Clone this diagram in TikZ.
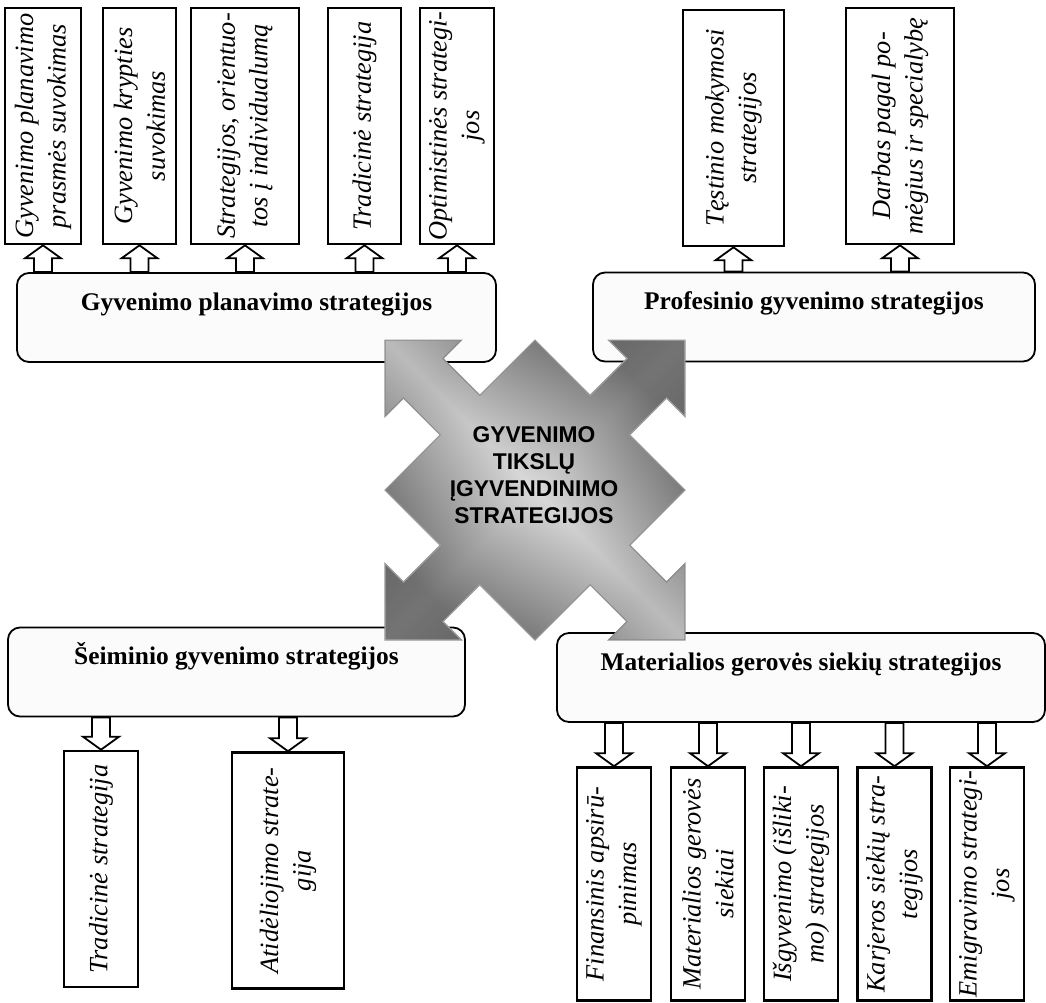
\documentclass[tikz,border=0pt]{standalone}
\usepackage{fontspec}
\setmainfont{Liberation Serif}
\newfontfamily\hubfont{Liberation Sans}
\usetikzlibrary{calc}
\usepackage{xcolor}
\definecolor{HubDark}{HTML}{474747}
\definecolor{HubLight}{HTML}{DCDCDC}
\definecolor{HubSide}{HTML}{707070}
\definecolor{HubEdge}{HTML}{959595}
\definecolor{GroupFill}{HTML}{FBFBFB}
\tikzset{
    % Group boxes - rounded corners
    group/.style={
        rectangle,
        rounded corners=6pt,
        draw=black,
        fill=GroupFill,
        line width=0.9pt,
        minimum height=44.5pt,
        inner ysep=7pt,
        text height=11.5pt,
        text depth=19pt,
        font=\fontsize{12.7}{14}\selectfont\bfseries
    },
    % Strategy boxes - text runs bottom to top
    item/.style={
        rectangle,
        rotate=90,
        draw=black,
        fill=white,
        line width=1.3pt,
        minimum width=118pt,
        inner sep=1pt,
        align=center,
        font=\fontsize{13.2}{16.3}\selectfont\itshape
    },
    % Centre text
    hub/.style={
        align=center,
        inner sep=0pt,
        font=\hubfont\fontsize{11.4}{13.6}\selectfont\bfseries
    },
    % Hollow block arrow, vertical only
    hollowarrow/.style={
        draw=black,
        fill=white,
        line width=0.9pt,
        to path={
            let \p1=(\tikztostart), \p2=(\tikztotarget),
                \n1={ifthenelse(\y2>\y1,1,-1)} in
            (\x1-4.5pt,\y1) -- (\x1-4.5pt,\y2-\n1*6.5pt) -- (\x1-9pt,\y2-\n1*6.5pt)
            -- (\x1,\y2) -- (\x1+9pt,\y2-\n1*6.5pt) -- (\x1+4.5pt,\y2-\n1*6.5pt)
            -- (\x1+4.5pt,\y1) -- cycle
        }
    }
}

\begin{document}
\begin{tikzpicture}[x=0.5pt, y=-0.5pt]
    \useasboundingbox (0,0) rectangle (1046,1003);

    % Group boxes
    \node[group, minimum width=239.5pt] (gp) at (256.5,317.5) {Gyvenimo planavimo strategijos};
    \node[group, minimum width=221pt] (pg) at (814,317) {Profesinio gyvenimo strategijos};
    \node[group, minimum width=228.5pt] (sg) at (236.5,672) {Šeiminio gyvenimo strategijos};
    \node[group, minimum width=244pt] (mg) at (801,677.5) {Materialios gerovės siekių strategijos};

    % Life planning (rotated: west is the bottom edge)
    \node[item, minimum height=38pt] (l1) at (43,126) {Gyvenimo planavimo\\prasmės suvokimas};
    \node[item, minimum height=36.5pt] (l2) at (139.5,126) {Gyvenimo krypties\\suvokimas};
    \node[item, minimum height=54pt] (l3) at (245,126) {Strategijos, orientuo-\\tos į individualumą};
    \node[item, minimum height=36.5pt] (l4) at (364.5,126) {Tradicinė strategija};
    \node[item, minimum height=37pt] (l5) at (457,126) {Optimistinės strategi-\\jos};

    % Professional life
    \node[item, minimum height=50.5pt] (t1) at (733.5,128) {Tęstinio mokymosi\\strategijos};
    \node[item, minimum height=54pt] (t2) at (900,126) {Darbas pagal po-\\mėgius ir specialybę};

    % Family life (rotated: east is the top edge)
    \node[item, minimum height=37pt] (b1) at (101,869) {Tradicinė strategija};
    \node[item, minimum height=56pt] (b2) at (288,870.5) {Atidėliojimo strate-\\gija};

    % Material welfare
    \node[item, minimum height=37pt, minimum width=116.5pt] (m1) at (614,884) {Finansinis apsirū-\\pinimas};
    \node[item, minimum height=37pt, minimum width=116.5pt] (m2) at (708,884) {Materialios gerovės\\siekiai};
    \node[item, minimum height=37pt, minimum width=116.5pt] (m3) at (801,884) {Išgyvenimo (išliki-\\mo) strategijos};
    \node[item, minimum height=37pt, minimum width=116.5pt] (m4) at (894.5,884) {Karjeros siekių stra-\\tegijos};
    \node[item, minimum height=37pt, minimum width=116.5pt] (m5) at (987,884) {Emigravimo strategi-\\jos};

    % Arrows
    \foreach \leaf in {l1,l2,l3,l4,l5}
        \draw[hollowarrow] (\leaf.west |- gp.north) to (\leaf.west);
    \foreach \leaf in {t1,t2}
        \draw[hollowarrow] (\leaf.west |- pg.north) to (\leaf.west);
    \foreach \leaf in {b1,b2}
        \draw[hollowarrow] (\leaf.east |- sg.south) to (\leaf.east);
    \foreach \leaf in {m1,m2,m3,m4,m5}
        \draw[hollowarrow] (\leaf.east |- mg.south) to (\leaf.east);

    % Four-way arrow in the middle
    \begin{scope}[shift={(535,490)}, rotate=45]
        \draw[draw=HubEdge, line width=0.6pt, top color=HubDark, bottom color=HubDark,
              middle color=HubLight, shading angle=-45,
              postaction={top color=HubSide, bottom color=HubSide, middle color=HubLight,
                          shading angle=45, fill opacity=0.3}]
            (106,106) -- (106,28) -- (158,28) -- (158,54) -- (212,0) -- (158,-54) -- (158,-28) -- (106,-28)
            -- (106,-106) -- (28,-106) -- (28,-158) -- (54,-158) -- (0,-212) -- (-54,-158) -- (-28,-158) -- (-28,-106)
            -- (-106,-106) -- (-106,-28) -- (-158,-28) -- (-158,-54) -- (-212,0) -- (-158,54) -- (-158,28) -- (-106,28)
            -- (-106,106) -- (-28,106) -- (-28,158) -- (-54,158) -- (0,212) -- (54,158) -- (28,158) -- (28,106)
            -- cycle;
    \end{scope}
    \node[hub] (goal) at (534,475) {GYVENIMO\\TIKSLŲ\\ĮGYVENDINIMO\\STRATEGIJOS};
\end{tikzpicture}
\end{document}
